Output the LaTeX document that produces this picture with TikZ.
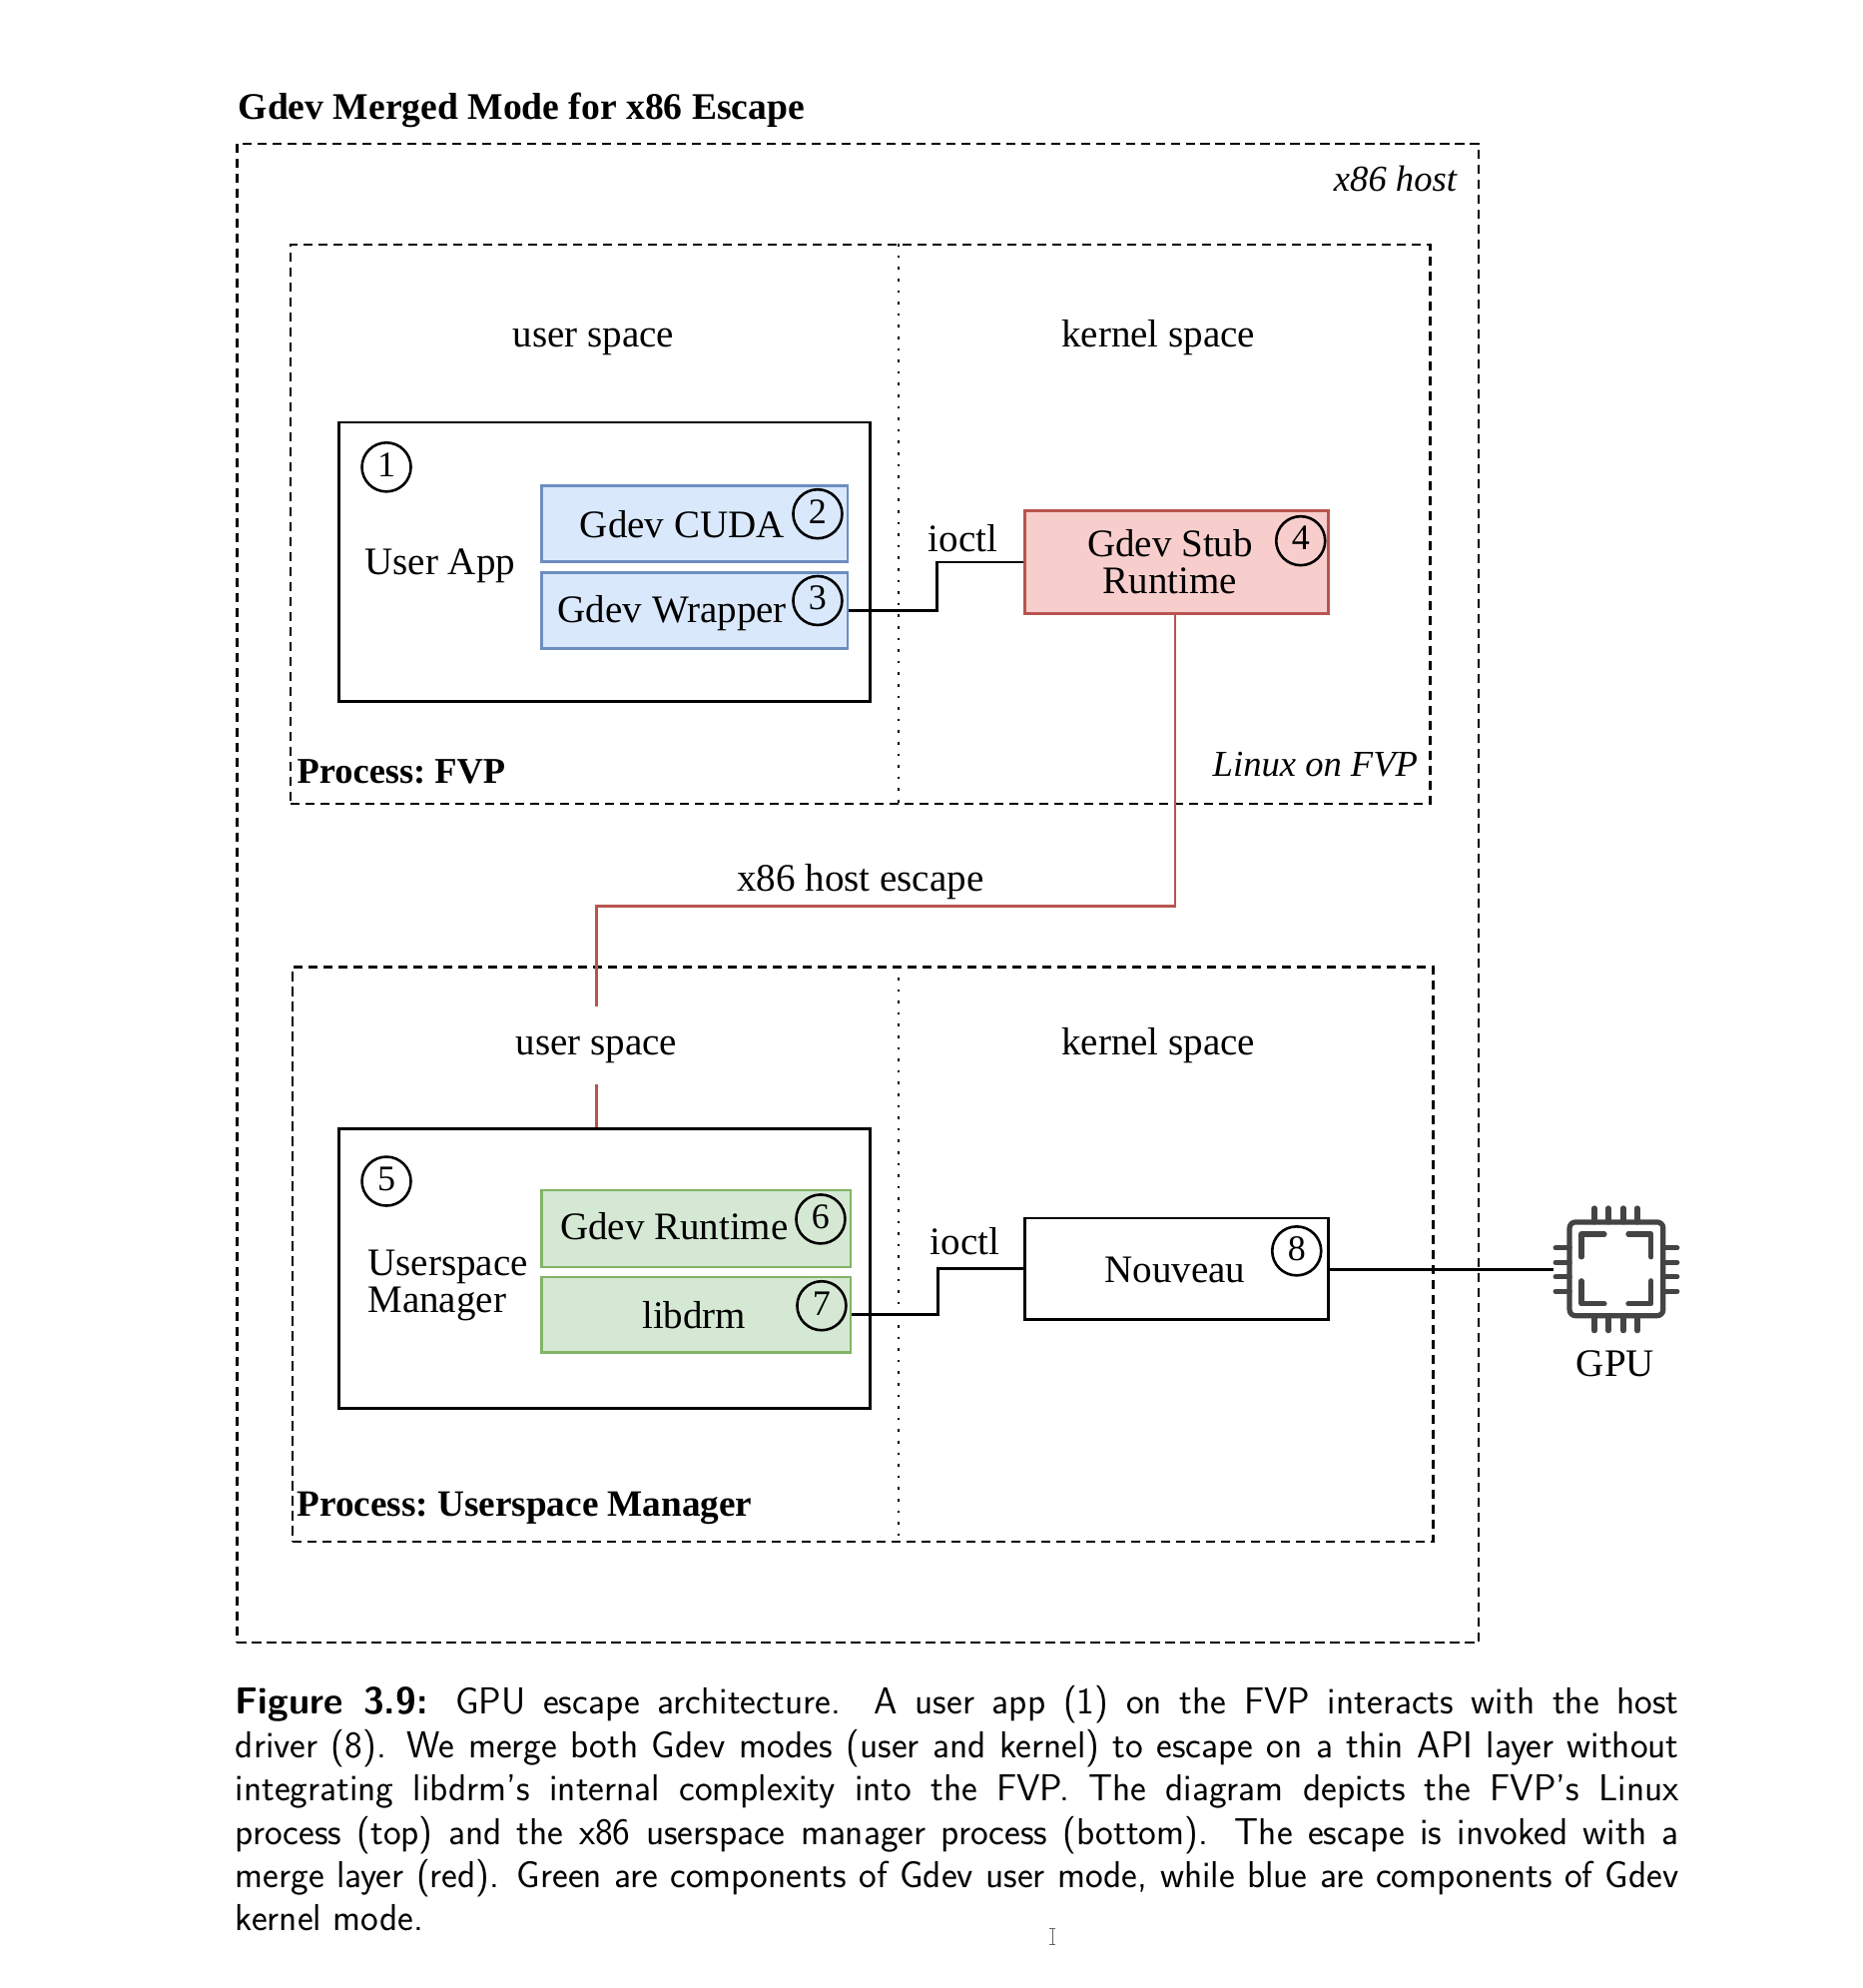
\documentclass[tikz,border=0pt]{standalone}
\usepackage{fontspec}
\setmainfont{Liberation Serif}
\usetikzlibrary{fit}
\definecolor{bluefill}{HTML}{DAE8FC}
\definecolor{blueline}{HTML}{6C8EBF}
\definecolor{greenfill}{HTML}{D5E8D4}
\definecolor{greenline}{HTML}{82B366}
\definecolor{redfill}{HTML}{F8CECC}
\definecolor{redline}{HTML}{B85450}
\definecolor{chipcol}{HTML}{444444}
\tikzset{
  lbl/.style={font=\fontsize{19.5}{18.5}\selectfont\frenchspacing, inner sep=0pt, align=center},
  one/.style={text height=13pt, text depth=4pt},
  lblb/.style={font=\fontsize{18.6}{18.5}\selectfont\bfseries\frenchspacing, inner sep=0pt, one},
  lbli/.style={font=\fontsize{18.3}{18.5}\selectfont\itshape, inner sep=0pt, one},
  region/.style={draw=black, line width=1.1pt, dash pattern=on 4.6pt off 2.9pt, inner sep=0pt},
  divider/.style={draw=black, line width=1.1pt, dash pattern=on 1.3pt off 4.5pt},
  appbox/.style={draw=black, line width=1.4pt, inner sep=0pt},
  bluebox/.style={draw=blueline, fill=bluefill, line width=1.3pt, inner sep=0pt},
  greenbox/.style={draw=greenline, fill=greenfill, line width=1.3pt, inner sep=0pt},
  redbox/.style={draw=redline, fill=redfill, line width=1.3pt, inner sep=0pt},
  wire/.style={draw=black, line width=1.4pt},
  redwire/.style={draw=redline, line width=1.3pt},
  numcirc/.style={circle, draw=black, line width=1.3pt, minimum size=24.5pt, inner sep=0pt, font=\fontsize{18}{18}\selectfont},
  chip/.style={draw=chipcol, line width=2.6pt, line cap=round, line join=round},
}
\begin{document}
\begin{tikzpicture}[x=0.4988pt,y=-0.4988pt]
\useasboundingbox (0,0) rectangle (1869.7,1996);
% regions
\node[region, fit={(238,144)(1485,1649)}] (host) {};
\node[region, fit={(292,246)(1436,807)}] (fvp) {};
\node[region, fit={(294,971)(1439,1548)}] (mgr) {};
\coordinate (dx) at (902,0);
\draw[divider] (dx|-fvp.north) -- (dx|-fvp.south);
\draw[divider] (dx|-mgr.north) -- (dx|-mgr.south);
% title and region labels
\node[lblb, anchor=west] (title) at (239,111) {\fontsize{18.8}{18.5}\selectfont Gdev Merged Mode for x86 Escape};
\node[lbli, anchor=east] (hostlbl) at (1463,183) {x86 host};
\node[lbl, one] (us1) at (596,339) {user space};
\node[lbl, one] (ks1) at (1163,339) {kernel space};
\node[lblb, anchor=west] (p1) at (298,777) {\fontsize{18.2}{18.5}\selectfont Process: FVP};
\node[lbli, anchor=east] (lin) at (1424,770) {Linux on FVP};
\node[lbl, one] (ks2) at (1163,1050) {kernel space};
\node[lblb, anchor=west] (p2) at (298,1513) {Process: Userspace Manager};
% boxes
\node[appbox, fit={(340,424)(874,704)}] (app1) {};
\node[bluebox, fit={(544,488)(851,564)}] (cuda) {};
\node[bluebox, fit={(544,575)(851,651)}] (wrap) {};
\node[redbox, fit={(1029,513)(1334,616)}] (stub) {};
\node[appbox, fit={(340,1133)(874,1414)}] (app2) {};
\node[greenbox, fit={(544,1195)(854,1272)}] (grt) {};
\node[greenbox, fit={(544,1282)(854,1358)}] (drm) {};
\node[appbox, fit={(1029,1223)(1334,1325)}] (nouv) {};
% box labels
\node[lbl, one, anchor=west] (uapp) at (366,568) {User App};
\node[lbl, one] (cudal) at (685,531) {Gdev CUDA};
\node[lbl, one] (wrapl) at (675,616) {Gdev Wrapper};
\node[lbl] (stubl) at (1175,564) {Gdev Stub\\Runtime};
\node[lbl, anchor=west, align=left] (umgr) at (369,1291) {Userspace\\Manager};
\node[lbl, one] (grtl) at (677,1236) {Gdev Runtime};
\node[lbl, one] (drml) at (697,1325) {libdrm};
\node[lbl, one] (nouvl) at (1180,1279) {Nouveau};
% numbers
\node[numcirc] (n1) at (388,469) {\raisebox{2.5pt}{1}};
\node[numcirc] (n2) at (821,516) {\raisebox{2.5pt}{2}};
\node[numcirc] (n3) at (821,603) {\raisebox{2.5pt}{3}};
\node[numcirc] (n4) at (1306,543) {\raisebox{2.5pt}{4}};
\node[numcirc] (n5) at (388,1186) {\raisebox{2.5pt}{5}};
\node[numcirc] (n6) at (824,1224) {\raisebox{2.5pt}{6}};
\node[numcirc] (n7) at (825,1311) {\raisebox{2.5pt}{7}};
\node[numcirc] (n8) at (1302,1256) {\raisebox{2.5pt}{8}};
% connectors
\coordinate (m1) at (941,613);
\coordinate (m2) at (942,1320);
\draw[wire] (wrap.east|-m1) -- (m1) |- (stub.west);
\draw[wire] (drm.east|-m2) -- (m2) |- (nouv.west);
\node[lbl, one] (io1) at (967,545) {ioctl};
\node[lbl, one] (io2) at (969,1251) {ioctl};
\coordinate (r1) at (1180,910);
\coordinate (r2) at (599,910);
\draw[redwire] (r1|-stub.south) -- (r1) -- (r2) -- (r2|-app2.north);
\node[lbl, one] (esc) at (864,886) {x86 host escape};
\node[lbl, one, fill=white, minimum height=39pt] (us2) at (599,1050) {user space};
% GPU icon
\coordinate (gpuin) at (1560,1275);
\draw[wire] (nouv.east|-gpuin) -- (gpuin);
\begin{scope}[shift={(4,4)}]
\draw[chip, rounded corners=3pt] (1572,1223) rectangle (1666,1317);
\foreach \p in {1597,1611,1626,1640} {
  \draw[chip] (\p,1209) -- (\p,1223);
  \draw[chip] (\p,1317) -- (\p,1332);
}
\foreach \p in {1249,1263.5,1278,1292.5} {
  \draw[chip] (1558,\p) -- (1572,\p);
  \draw[chip] (1666,\p) -- (1680,\p);
}
\draw[chip] (1584,1258) -- (1584,1235) -- (1607,1235);
\draw[chip] (1631,1235) -- (1654,1235) -- (1654,1258);
\draw[chip] (1584,1282) -- (1584,1305) -- (1607,1305);
\draw[chip] (1631,1305) -- (1654,1305) -- (1654,1282);
\end{scope}
\node[lbl, one] (gpul) at (1622,1373) {GPU};
% caption
\node[anchor=north west, inner sep=0pt, text width=723pt, align=justify,
      font=\fontsize{18.8}{21.7}\selectfont\sffamily] (cap) at (236,1692.5) {%
\textbf{Figure 3.9:} GPU escape architecture. A user app (1) on the FVP interacts with the host\linebreak
driver (8). We merge both Gdev modes (user and kernel) to escape on a thin API layer without\linebreak
integrating libdrm's internal complexity into the FVP. The diagram depicts the FVP's Linux\linebreak
process (top) and the x86 userspace manager process (bottom). The escape is invoked with a\linebreak
merge layer (red). Green are components of Gdev user mode, while blue are components of Gdev\linebreak
kernel mode.};
% text cursor
\draw[black!60, line width=0.5pt] (1057,1936) -- (1057,1952) (1054,1936) -- (1060,1936) (1054,1952) -- (1060,1952);
\end{tikzpicture}
\end{document}
